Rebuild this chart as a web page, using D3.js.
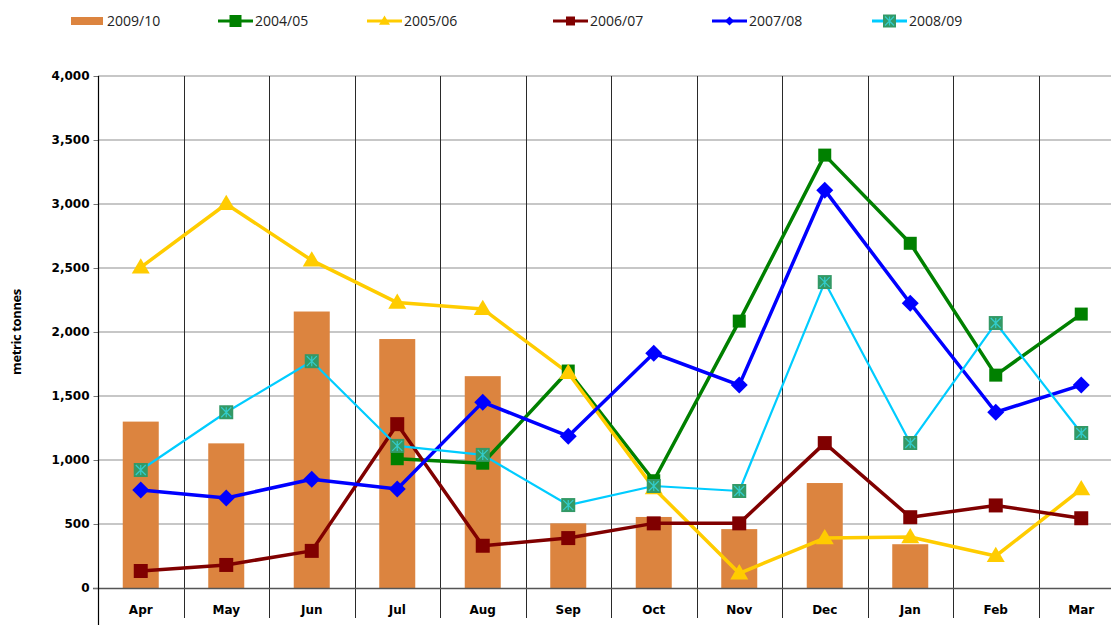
<!DOCTYPE html>
<html>
<head>
<meta charset="utf-8">
<script src="https://cdn.jsdelivr.net/npm/d3@7"></script>
<style>
  body { margin: 0; background: #fff; overflow: hidden; }
  svg { display: block; }
</style>
</head>
<body>
<svg id="chart" width="1111" height="625"></svg>
<script>
// months of the (Apr-Mar) season
var months = ["Apr", "May", "Jun", "Jul", "Aug", "Sep", "Oct", "Nov", "Dec", "Jan", "Feb", "Mar"];
var yTicks = [0, 500, 1000, 1500, 2000, 2500, 3000, 3500, 4000];

// bar series
var s0910 = [1300, 1130, 2160, 1945, 1655, 505, 555, 460, 820, 342, null, null];

// line series
var s0405 = [null, null, null, 1010, 975, 1695, 838, 2085, 3382, 2693, 1663, 2140];
var s0506 = [2505, 3000, 2560, 2230, 2180, 1680, 780, 115, 390, 398, 250, 772];
var s0607 = [133, 180, 290, 1280, 330, 390, 505, 505, 1132, 553, 645, 545];
var s0708 = [765, 703, 850, 773, 1452, 1186, 1834, 1585, 3108, 2225, 1373, 1585];
var s0809 = [922, 1373, 1772, 1110, 1040, 648, 797, 758, 2390, 1133, 2070, 1211];

var margin = {top: 76, left: 98};
var band = 85.5;
var h = 512;

var svg = d3.select("#chart");

var xScale = d3.scaleBand()
  .domain(months)
  .range([margin.left, margin.left + band * months.length]);
var yScale = d3.scaleLinear()
  .domain([0, 4000])
  .range([margin.top + h, margin.top]);

var fontTick = "'DejaVu Sans', Verdana, sans-serif";
var fontLegend = "'Open Sans', 'Noto Sans', sans-serif";

// horizontal grid lines
svg.append("g")
  .selectAll("line")
  .data(yTicks.slice(1))
  .enter().append("line")
  .attr("x1", margin.left)
  .attr("x2", 1111)
  .attr("y1", (d) => yScale(d))
  .attr("y2", (d) => yScale(d))
  .style("stroke", "#b4b4b4")
  .style("stroke-width", 1.5);

// bars 2009/10
svg.append("g")
  .selectAll("rect")
  .data(months.map((m, i) => ({m: m, v: s0910[i]})).filter((d) => d.v != null))
  .enter().append("rect")
  .attr("x", (d) => xScale(d.m) + band / 2 - 18)
  .attr("width", 36)
  .attr("y", (d) => yScale(d.v))
  .attr("height", (d) => yScale(0) - yScale(d.v))
  .style("fill", "#dc843f");

// vertical category separators
svg.append("g")
  .selectAll("line")
  .data(months.slice(1))
  .enter().append("line")
  .attr("x1", (d) => Math.round(xScale(d)) + 0.5)
  .attr("x2", (d) => Math.round(xScale(d)) + 0.5)
  .attr("y1", margin.top)
  .attr("y2", 618)
  .style("stroke", "#2a2a2a")
  .style("stroke-width", 1);

// x axis line (zero)
svg.append("line")
  .attr("x1", margin.left - 5).attr("x2", 1111)
  .attr("y1", yScale(0) + 0.5).attr("y2", yScale(0) + 0.5)
  .style("stroke", "#555").style("stroke-width", 1.5);

// y axis
var yAxis = d3.axisLeft(yScale)
  .tickValues(yTicks)
  .tickSize(5)
  .tickPadding(4)
  .tickFormat(d3.format(","));
var gy = svg.append("g")
  .attr("transform", "translate(" + (margin.left + 0.5) + ",0)")
  .call(yAxis);
gy.select(".domain").remove();
gy.selectAll(".tick line").style("stroke", "#777");
gy.selectAll("text")
  .style("font-family", fontTick)
  .style("font-size", "12px")
  .style("font-weight", "bold")
  .style("fill", "#000");
svg.append("line")
  .attr("x1", margin.left + 0.5).attr("x2", margin.left + 0.5)
  .attr("y1", margin.top).attr("y2", 625)
  .style("stroke", "#000").style("stroke-width", 1.2);

// x labels
svg.append("g")
  .selectAll("text")
  .data(months)
  .enter().append("text")
  .attr("x", (d) => xScale(d) + band / 2)
  .attr("y", 614)
  .attr("text-anchor", "middle")
  .style("font-family", fontTick)
  .style("font-size", "12px")
  .style("font-weight", "bold")
  .text((d) => d);

// y title
svg.append("text")
  .attr("transform", "translate(21,332) rotate(-90)")
  .attr("text-anchor", "middle")
  .style("font-family", fontLegend)
  .style("font-size", "13px")
  .style("font-weight", "bold")
  .style("letter-spacing", "-0.4px")
  .text("metric tonnes");

// marker shapes
function square(s) {
  return "M" + (-s / 2) + "," + (-s / 2) + "h" + s + "v" + s + "h" + (-s) + "Z";
}
function diamond(s) {
  return "M0," + (-s / 2) + "L" + (s / 2) + ",0L0," + (s / 2) + "L" + (-s / 2) + ",0Z";
}
function triangle(s) {
  var hh = s * 0.85;
  return "M0," + (-hh * 0.6) + "L" + (s / 2) + "," + (hh * 0.4) + "L" + (-s / 2) + "," + (hh * 0.4) + "Z";
}

var series = [
  {name: "2004/05", values: s0405, color: "#008000", width: 3.5, marker: "square", size: 13, fill: "#008000"},
  {name: "2005/06", values: s0506, color: "#ffcc00", width: 3.5, marker: "triangle", size: 18, fill: "#ffcc00"},
  {name: "2006/07", values: s0607, color: "#800000", width: 3.5, marker: "square", size: 14, fill: "#800000"},
  {name: "2007/08", values: s0708, color: "#0000ff", width: 3.5, marker: "diamond", size: 17, fill: "#0000ff"},
  {name: "2008/09", values: s0809, color: "#00ccff", width: 2.2, marker: "star", size: 14, fill: "#339966"}
];

function drawMarker(g, s, size) {
  if (s.marker == "square") {
    g.append("path").attr("d", square(size)).style("fill", s.fill);
  } else if (s.marker == "diamond") {
    g.append("path").attr("d", diamond(size)).style("fill", s.fill);
  } else if (s.marker == "triangle") {
    g.append("path").attr("d", triangle(size)).style("fill", s.fill);
  } else {
    g.append("path").attr("d", square(size)).style("fill", s.fill);
    var r = size / 2 - 2;
    var p = "M0," + (-r) + "V" + r + "M" + (-r) + "," + (-r) + "L" + r + "," + r + "M" + r + "," + (-r) + "L" + (-r) + "," + r;
    g.append("path").attr("d", p).style("stroke", "#33cccc").style("stroke-width", 1.2).style("fill", "none");
  }
}

var line = d3.line()
  .defined((d) => d.v != null)
  .x((d) => xScale(d.m) + band / 2)
  .y((d) => yScale(d.v));

series.forEach(function (s) {
  var data = months.map((m, i) => ({m: m, v: s.values[i]}));
  svg.append("path")
    .datum(data)
    .attr("d", line)
    .style("fill", "none")
    .style("stroke", s.color)
    .style("stroke-width", s.width)
    .style("stroke-linejoin", "round");
});
series.forEach(function (s) {
  var data = months.map((m, i) => ({m: m, v: s.values[i]})).filter((d) => d.v != null);
  data.forEach(function (d) {
    var g = svg.append("g")
      .attr("transform", "translate(" + (xScale(d.m) + band / 2) + "," + yScale(d.v) + ")");
    drawMarker(g, s, s.size);
  });
});

// legend
var legend = svg.append("g");
legend.append("rect")
  .attr("x", 71).attr("y", 17).attr("width", 32).attr("height", 8)
  .style("fill", "#dc843f");
legend.append("text")
  .attr("x", 107).attr("y", 26)
  .style("font-family", fontLegend).style("font-size", "14px")
  .style("fill", "#222")
  .text("2009/10");

var legendX = [218, 367, 553, 712, 872];
series.forEach(function (s, i) {
  var lx = legendX[i];
  legend.append("line")
    .attr("x1", lx).attr("x2", lx + 35)
    .attr("y1", 21).attr("y2", 21)
    .style("stroke", s.color)
    .style("stroke-width", 3);
  var g = legend.append("g").attr("transform", "translate(" + (lx + 17.5) + ",21)");
  var msize = {square: 12, triangle: 11, diamond: 9, star: 13}[s.marker];
  if (s.name == "2006/07") msize = 9;
  drawMarker(g, s, msize);
  legend.append("text")
    .attr("x", lx + 37).attr("y", 26)
    .style("font-family", fontLegend).style("font-size", "14px")
    .style("fill", "#222")
    .text(s.name);
});
</script>
</body>
</html>
